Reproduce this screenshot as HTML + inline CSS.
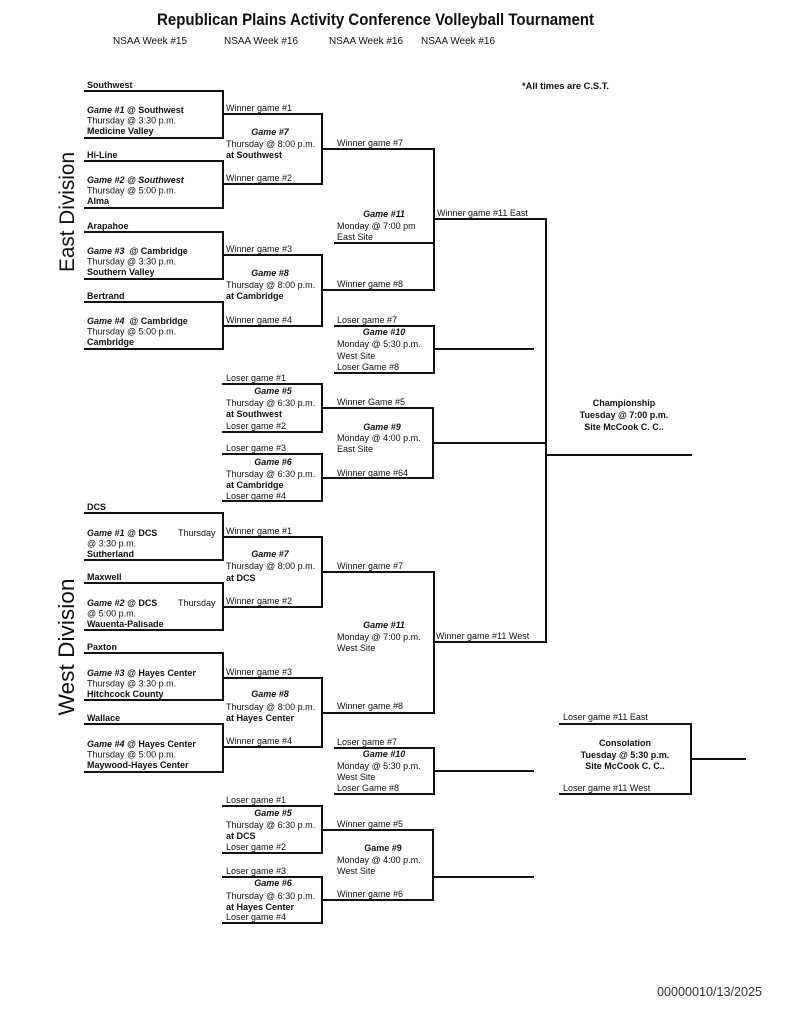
<!DOCTYPE html>
<html>
<head>
<meta charset="utf-8">
<style>
html,body{margin:0;padding:0;background:#fff;}
svg{display:block;}
text{font-family:"Liberation Sans",Arial,sans-serif;fill:#111;}
.t{font-size:9px;}
.b{font-weight:bold;}
.bi{font-weight:bold;font-style:italic;}
.c{text-anchor:middle;}
</style>
</head>
<body>
<svg width="791" height="1024" viewBox="0 0 791 1024" xmlns="http://www.w3.org/2000/svg">
<rect width="791" height="1024" fill="#fff"/>
<!-- Header -->
<text x="375.5" y="25" class="b c" font-size="16.5" textLength="437" lengthAdjust="spacingAndGlyphs">Republican Plains Activity Conference Volleyball Tournament</text>
<text x="113" y="44" font-size="10.5" textLength="74" lengthAdjust="spacingAndGlyphs">NSAA Week #15</text>
<text x="224" y="44" font-size="10.5" textLength="74" lengthAdjust="spacingAndGlyphs">NSAA Week #16</text>
<text x="329" y="44" font-size="10.5" textLength="74" lengthAdjust="spacingAndGlyphs">NSAA Week #16</text>
<text x="421" y="44" font-size="10.5" textLength="74" lengthAdjust="spacingAndGlyphs">NSAA Week #16</text>
<text x="522" y="89" class="t b" textLength="87" lengthAdjust="spacingAndGlyphs">*All times are C.S.T.</text>

<!-- Division labels -->
<text transform="translate(74,212) rotate(-90)" class="c" font-size="21" textLength="120" lengthAdjust="spacingAndGlyphs">East Division</text>
<text transform="translate(74,647) rotate(-90)" class="c" font-size="22" textLength="137" lengthAdjust="spacingAndGlyphs">West Division</text>

<g stroke="#111" stroke-width="2" fill="none" stroke-linecap="square">
<!-- East left boxes -->
<path d="M85 91H223V138H85"/>
<path d="M85 161H223V208H85"/>
<path d="M85 232H223V279H85"/>
<path d="M85 302H223V349H85"/>
<!-- East col2 -->
<path d="M223 114H322V184H223"/>
<path d="M223 255H322V326H223"/>
<path d="M322 149H434"/>
<path d="M322 290H434"/>
<!-- East G11 -->
<path d="M335 149H434V290H335"/>
<path d="M335 243H434"/>
<path d="M434 219H546"/>
<!-- East G10 -->
<path d="M335 326H434V373H335"/>
<path d="M434 349H533"/>
<!-- East G5 G6 -->
<path d="M223 384H322V432H223"/>
<path d="M223 454H322V501H223"/>
<!-- East G9 -->
<path d="M322 408H433V478H322"/>
<path d="M433 443H546"/>
<!-- Championship -->
<path d="M546 219V642"/>
<path d="M546 455H691"/>

<!-- West left boxes -->
<path d="M85 513H223V560H85"/>
<path d="M85 583H223V630H85"/>
<path d="M85 653H223V700H85"/>
<path d="M85 724H223V772H85"/>
<!-- West col2 -->
<path d="M223 537H322V607H223"/>
<path d="M223 678H322V747H223"/>
<path d="M322 572H434"/>
<path d="M322 713H434"/>
<!-- West G11 -->
<path d="M434 572V712"/>
<path d="M434 642H546"/>
<!-- West G10 -->
<path d="M335 748H434V794H335"/>
<path d="M434 771H533"/>
<!-- West G5 G6 -->
<path d="M223 806H322V853H223"/>
<path d="M223 877H322V923H223"/>
<!-- West G9 -->
<path d="M322 830H433V900H322"/>
<path d="M433 877H533"/>
<!-- Consolation -->
<path d="M560 724H691V794H560"/>
<path d="M691 759H745"/>
</g>

<!-- East left text -->
<text x="87" y="88" class="t b">Southwest</text>
<text x="87" y="113" class="t"><tspan class="bi">Game #1</tspan><tspan class="b"> @ Southwest</tspan></text>
<text x="87" y="123.5" class="t">Thursday @ 3:30 p.m.</text>
<text x="87" y="134" class="t b">Medicine Valley</text>

<text x="87" y="158" class="t b">Hi-Line</text>
<text x="87" y="183" class="t bi">Game #2 @ Southwest</text>
<text x="87" y="193.5" class="t">Thursday @ 5:00 p.m.</text>
<text x="87" y="204" class="t b">Alma</text>

<text x="87" y="229" class="t b">Arapahoe</text>
<text x="87" y="254" class="t" xml:space="preserve"><tspan class="bi">Game #3</tspan><tspan class="b">  @ Cambridge</tspan></text>
<text x="87" y="264.5" class="t">Thursday @ 3:30 p.m.</text>
<text x="87" y="275" class="t b">Southern Valley</text>

<text x="87" y="299" class="t b">Bertrand</text>
<text x="87" y="324" class="t" xml:space="preserve"><tspan class="bi">Game #4</tspan><tspan class="b">  @ Cambridge</tspan></text>
<text x="87" y="334.5" class="t">Thursday @ 5:00 p.m.</text>
<text x="87" y="345" class="t b">Cambridge</text>

<!-- East col2 text -->
<text x="226" y="111" class="t">Winner game #1</text>
<text x="270" y="135" class="t bi c">Game #7</text>
<text x="226" y="147" class="t">Thursday @ 8:00 p.m.</text>
<text x="226" y="158" class="t b">at Southwest</text>
<text x="226" y="181" class="t">Winner game #2</text>

<text x="226" y="252" class="t">Winner game #3</text>
<text x="270" y="276" class="t bi c">Game #8</text>
<text x="226" y="288" class="t">Thursday @ 8:00 p.m.</text>
<text x="226" y="299" class="t b">at Cambridge</text>
<text x="226" y="323" class="t">Winner game #4</text>

<text x="226" y="381" class="t">Loser game #1</text>
<text x="273" y="394" class="t bi c">Game #5</text>
<text x="226" y="406" class="t">Thursday @ 6:30 p.m.</text>
<text x="226" y="417" class="t b">at Southwest</text>
<text x="226" y="429" class="t">Loser game #2</text>

<text x="226" y="451" class="t">Loser game #3</text>
<text x="273" y="465" class="t bi c">Game #6</text>
<text x="226" y="477" class="t">Thursday @ 6:30 p.m.</text>
<text x="226" y="488" class="t b">at Cambridge</text>
<text x="226" y="499" class="t">Loser game #4</text>

<!-- East col3 text -->
<text x="337" y="146" class="t">Winner game #7</text>
<text x="384" y="217" class="t bi c">Game #11</text>
<text x="337" y="229" class="t">Monday @ 7:00 pm</text>
<text x="337" y="240" class="t">East Site</text>
<text x="337" y="287" class="t">Winner game #8</text>
<text x="437" y="216" class="t">Winner game #11 East</text>

<text x="337" y="323" class="t">Loser game #7</text>
<text x="384" y="335" class="t bi c">Game #10</text>
<text x="337" y="347" class="t">Monday @ 5:30 p.m.</text>
<text x="337" y="359" class="t">West Site</text>
<text x="337" y="370" class="t">Loser Game #8</text>

<text x="337" y="405" class="t">Winner Game #5</text>
<text x="382" y="430" class="t bi c">Game #9</text>
<text x="337" y="441" class="t">Monday @ 4:00 p.m.</text>
<text x="337" y="452" class="t">East Site</text>
<text x="337" y="476" class="t">Winner game #64</text>

<!-- Championship -->
<text x="624" y="406" class="t b c">Championship</text>
<text x="624" y="418" class="t b c">Tuesday @ 7:00 p.m.</text>
<text x="624" y="430" class="t b c">Site McCook C. C..</text>

<!-- West left text -->
<text x="87" y="510" class="t b">DCS</text>
<text x="87" y="536" class="t"><tspan class="bi">Game #1 @</tspan><tspan class="b"> DCS</tspan></text>
<text x="178" y="536" class="t">Thursday</text>
<text x="87" y="546.5" class="t">@ 3:30 p.m.</text>
<text x="87" y="557" class="t b">Sutherland</text>

<text x="87" y="580" class="t b">Maxwell</text>
<text x="87" y="606" class="t"><tspan class="bi">Game #2 @</tspan><tspan class="b"> DCS</tspan></text>
<text x="178" y="606" class="t">Thursday</text>
<text x="87" y="616.5" class="t">@ 5:00 p.m.</text>
<text x="87" y="627" class="t b">Wauenta-Palisade</text>

<text x="87" y="650" class="t b">Paxton</text>
<text x="87" y="676" class="t"><tspan class="bi">Game #3 @</tspan><tspan class="b"> Hayes Center</tspan></text>
<text x="87" y="686.5" class="t">Thursday @ 3:30 p.m.</text>
<text x="87" y="697" class="t b">Hitchcock County</text>

<text x="87" y="721" class="t b">Wallace</text>
<text x="87" y="747" class="t"><tspan class="bi">Game #4 @</tspan><tspan class="b"> Hayes Center</tspan></text>
<text x="87" y="757.5" class="t">Thursday @ 5:00 p.m.</text>
<text x="87" y="768" class="t b">Maywood-Hayes Center</text>

<!-- West col2 text -->
<text x="226" y="534" class="t">Winner game #1</text>
<text x="270" y="557" class="t bi c">Game #7</text>
<text x="226" y="569" class="t">Thursday @ 8:00 p.m.</text>
<text x="226" y="581" class="t b">at DCS</text>
<text x="226" y="604" class="t">Winner game #2</text>

<text x="226" y="675" class="t">Winner game #3</text>
<text x="270" y="697" class="t bi c">Game #8</text>
<text x="226" y="710" class="t">Thursday @ 8:00 p.m.</text>
<text x="226" y="721" class="t b">at Hayes Center</text>
<text x="226" y="744" class="t">Winner game #4</text>

<text x="226" y="803" class="t">Loser game #1</text>
<text x="273" y="816" class="t bi c">Game #5</text>
<text x="226" y="828" class="t">Thursday @ 6:30 p.m.</text>
<text x="226" y="839" class="t b">at DCS</text>
<text x="226" y="850" class="t">Loser game #2</text>

<text x="226" y="874" class="t">Loser game #3</text>
<text x="273" y="886" class="t bi c">Game #6</text>
<text x="226" y="899" class="t">Thursday @ 6:30 p.m.</text>
<text x="226" y="910" class="t b">at Hayes Center</text>
<text x="226" y="920" class="t">Loser game #4</text>

<!-- West col3 text -->
<text x="337" y="569" class="t">Winner game #7</text>
<text x="384" y="628" class="t bi c">Game #11</text>
<text x="337" y="640" class="t">Monday @ 7:00 p.m.</text>
<text x="337" y="651" class="t">West Site</text>
<text x="337" y="709" class="t">Winner game #8</text>
<text x="436" y="639" class="t">Winner game #11 West</text>

<text x="337" y="745" class="t">Loser game #7</text>
<text x="384" y="757" class="t bi c">Game #10</text>
<text x="337" y="769" class="t">Monday @ 5:30 p.m.</text>
<text x="337" y="780" class="t">West Site</text>
<text x="337" y="791" class="t">Loser Game #8</text>

<text x="337" y="827" class="t">Winner game #5</text>
<text x="383" y="851" class="t b c">Game #9</text>
<text x="337" y="863" class="t">Monday @ 4:00 p.m.</text>
<text x="337" y="874" class="t">West Site</text>
<text x="337" y="897" class="t">Winner game #6</text>

<!-- Consolation -->
<text x="563" y="720" class="t">Loser game #11 East</text>
<text x="625" y="746" class="t b c">Consolation</text>
<text x="625" y="758" class="t b c">Tuesday @ 5:30 p.m.</text>
<text x="625" y="769" class="t b c">Site McCook C. C..</text>
<text x="563" y="791" class="t">Loser game #11 West</text>

<!-- Date -->
<text x="657" y="996" font-size="12.5" fill="#333" style="fill:#333" textLength="105" lengthAdjust="spacingAndGlyphs">00000010/13/2025</text>
</svg>
</body>
</html>
